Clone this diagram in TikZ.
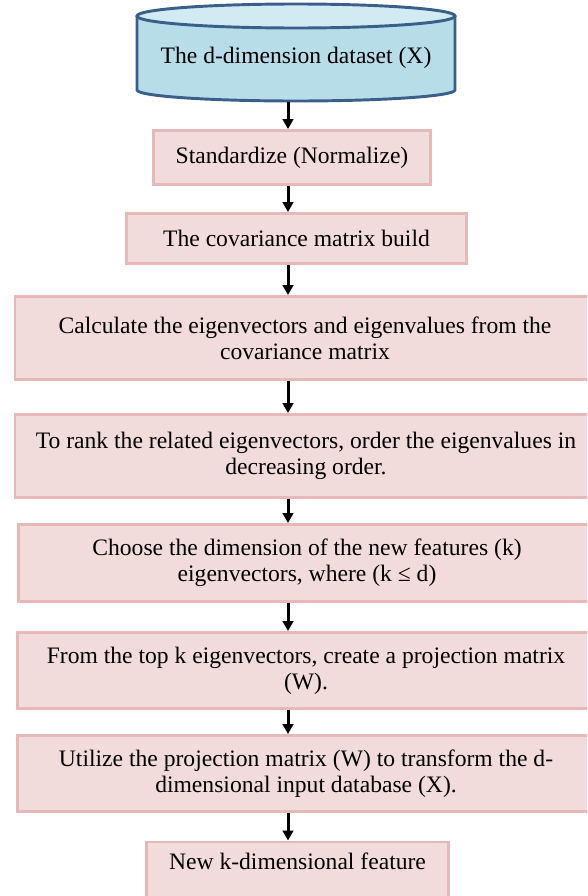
\documentclass[tikz,border=0pt]{standalone}
\usepackage{fontspec}
\setmainfont{Liberation Serif}
\newfontfamily\stepfont{Liberation Serif}
\usepackage{xcolor}
\usepackage{tikz}
\usetikzlibrary{arrows.meta, positioning}
\definecolor{stepfill}{HTML}{F2DCDB}
\definecolor{stepline}{HTML}{E6B9B8}
\definecolor{dbfill}{HTML}{B7DEE8}
\definecolor{dbtop}{HTML}{D2EAF1}
\definecolor{dbline}{HTML}{3A5F8B}
\tikzstyle{arrow} = [line width=2.25pt,-{Triangle[length=7.5pt,width=8pt]}]
\tikzstyle{stepbox} = [rectangle, draw=stepline, fill=stepfill, line width=2.2pt, align=center, inner sep=0pt, font=\stepfont\fontsize{17.7}{19.5}\selectfont]
\tikzstyle{database} = [draw=dbline, line width=2.2pt]

\begin{document}
\begin{tikzpicture}[x=0.75pt, y=0.75pt]
\useasboundingbox (0,0) rectangle (587,-896);
\clip (0,0) rectangle (587,-896);

% Dataset (cylinder)
\draw [database, fill=dbfill] (137,-16) -- (137,-90) arc[start angle=180, end angle=360, x radius=159, y radius=11] -- (455,-16);
\draw [database, fill=dbtop] (296,-16) ellipse [x radius=159, y radius=12];
\node (data) [stepbox, draw=none, fill=none, minimum width=238pt, minimum height=64.5pt] at (296,-58) {The d-dimension dataset (X)};

% Main Steps
\node (std) [stepbox, minimum width=207.75pt, minimum height=40.5pt] at (292,-157.5) {Standardize (Normalize)};
\node (cov) [stepbox, minimum width=255pt, minimum height=37.5pt] at (296.5,-238.5) {The covariance matrix build};
\node (eig) [stepbox, minimum width=435pt, minimum height=62.25pt] at (305,-338) {Calculate the eigenvectors and eigenvalues from the\\covariance matrix};
\node (rank) [stepbox, minimum width=436.5pt, minimum height=62.25pt] at (306,-456) {To rank the related eigenvectors, order the eigenvalues in\\decreasing order.};
\node (choose) [stepbox, minimum width=432.75pt, minimum height=57.75pt] at (307,-563) {Choose the dimension of the new features (k)\\eigenvectors, where (k ≤ d)};
\node (proj) [stepbox, minimum width=432.75pt, minimum height=57pt] at (306,-670.5) {From the top k eigenvectors, create a projection matrix\\(W).};
\node (trans) [stepbox, minimum width=432.75pt, minimum height=57pt] at (306,-773.5) {Utilize the projection matrix (W) to transform the d-\\dimensional input database (X).};
\node (feat) [stepbox, minimum width=227pt, text height=20.6pt, text depth=27.75pt] at (297.5,-840.5) [anchor=north] {New k-dimensional feature};

% Connections
\coordinate (spine) at (288,0);
\draw [arrow] (spine |- data.south) -- (spine |- std.north);
\draw [arrow] (spine |- std.south) -- (spine |- cov.north);
\draw [arrow] (spine |- cov.south) -- (spine |- eig.north);
\draw [arrow] (spine |- eig.south) -- (spine |- rank.north);
\draw [arrow] (spine |- rank.south) -- (spine |- choose.north);
\draw [arrow] (spine |- choose.south) -- (spine |- proj.north);
\draw [arrow] (spine |- proj.south) -- (spine |- trans.north);
\draw [arrow] (spine |- trans.south) -- (spine |- feat.north);

\end{tikzpicture}
\end{document}
